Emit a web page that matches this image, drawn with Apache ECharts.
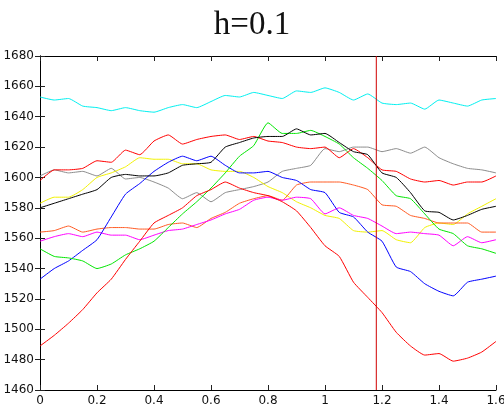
<!DOCTYPE html>
<html>
<head>
<meta charset="utf-8">
<script src="https://cdn.jsdelivr.net/npm/echarts@6/dist/echarts.min.js"></script>
<style>
  html, body { margin: 0; padding: 0; background: #fff; }
  #chart { width: 504px; height: 407px; }
</style>
</head>
<body>
<div id="chart"></div>
<script>
// Sample positions along h-axis
const xs = [0, 0.05, 0.1, 0.15, 0.2, 0.25, 0.3, 0.35, 0.4, 0.45, 0.5, 0.55, 0.6, 0.65, 0.7, 0.75,
            0.8, 0.85, 0.9, 0.95, 1.0, 1.05, 1.1, 1.15, 1.2, 1.25, 1.3, 1.35, 1.4, 1.45, 1.5, 1.55, 1.6];

const cyan     = [1653, 1651, 1652, 1647, 1646, 1644, 1646, 1644, 1643, 1646, 1648, 1646, 1650, 1654, 1653, 1656,
                  1654, 1652, 1657, 1656, 1659, 1656, 1651, 1655, 1649, 1648, 1649, 1645, 1651, 1649, 1647, 1651, 1652];
const redUpper = [1598, 1605, 1605, 1606, 1611, 1610, 1618, 1615, 1624, 1628, 1622, 1625, 1627, 1628, 1625, 1627,
                  1624, 1623, 1620, 1619, 1620, 1613, 1619, 1613, 1605, 1604, 1599, 1597, 1598, 1595, 1597, 1597, 1601];
const yellow   = [1583, 1587, 1587, 1592, 1600, 1603, 1607, 1613, 1612, 1612, 1609, 1609, 1605, 1604, 1604, 1600,
                  1594, 1590, 1584, 1580, 1575, 1573, 1565, 1564, 1565, 1559, 1557, 1567, 1570, 1569, 1576, 1581, 1586];
const gray     = [1601, 1605, 1603, 1604, 1601, 1606, 1599, 1600, 1597, 1593, 1586, 1590, 1584, 1590, 1592, 1594,
                  1597, 1604, 1606, 1608, 1619, 1617, 1620, 1620, 1617, 1619, 1616, 1620, 1613, 1609, 1606, 1605, 1603];
const black    = [1580, 1583, 1586, 1589, 1592, 1600, 1602, 1601, 1601, 1603, 1608, 1609, 1610, 1620, 1623, 1626,
                  1627, 1627, 1632, 1628, 1629, 1623, 1617, 1615, 1603, 1600, 1590, 1578, 1577, 1572, 1575, 1579, 1581];
const blue     = [1533, 1540, 1545, 1552, 1559, 1574, 1589, 1596, 1604, 1610, 1614, 1611, 1614, 1608, 1603, 1603,
                  1604, 1600, 1598, 1592, 1590, 1577, 1574, 1564, 1558, 1541, 1538, 1530, 1525, 1522, 1531, 1533, 1535];
const green    = [1553, 1548, 1547, 1545, 1540, 1543, 1549, 1553, 1558, 1567, 1576, 1584, 1593, 1603, 1614, 1621,
                  1636, 1629, 1629, 1631, 1627, 1622, 1613, 1606, 1598, 1588, 1586, 1576, 1566, 1563, 1555, 1553, 1550];
const orange   = [1564, 1565, 1568, 1564, 1566, 1567, 1567, 1566, 1566, 1569, 1570, 1567, 1573, 1577, 1583, 1586,
                  1588, 1585, 1595, 1597, 1597, 1597, 1595, 1592, 1582, 1581, 1575, 1573, 1570, 1570, 1570, 1564, 1564];
const magenta  = [1558, 1561, 1563, 1561, 1564, 1562, 1562, 1559, 1562, 1565, 1566, 1569, 1572, 1576, 1579, 1585,
                  1587, 1585, 1587, 1586, 1576, 1580, 1575, 1573, 1568, 1563, 1564, 1563, 1562, 1555, 1561, 1557, 1559];
const redLower = [1489, 1496, 1504, 1513, 1524, 1533, 1546, 1558, 1570, 1575, 1580, 1588, 1592, 1597, 1593, 1590,
                  1588, 1584, 1578, 1567, 1555, 1548, 1531, 1521, 1511, 1498, 1489, 1483, 1484, 1479, 1481, 1485, 1492];

// Position of the vertical marker
const markerH = 1.18;

const xTicks = { min: 0, max: 1.6, interval: 0.2 };
const yTicks = { min: 1460, max: 1680, interval: 20 };

const curves = [
  { name: 'cyan',     color: '#00f0f0', values: cyan },
  { name: 'gray',     color: '#8c8c8c', values: gray },
  { name: 'yellow',   color: '#f2f200', values: yellow },
  { name: 'orange',   color: '#ff5a22', values: orange },
  { name: 'magenta',  color: '#ff00ff', values: magenta },
  { name: 'blue',     color: '#0000ff', values: blue },
  { name: 'green',    color: '#00e600', values: green },
  { name: 'redUpper', color: '#ff0000', values: redUpper },
  { name: 'black',    color: '#000000', values: black },
  { name: 'redLower', color: '#ff0000', values: redLower }
];

const plainNumber = v => String(Math.round(v * 1000) / 1000);
const labelStyle = { color: '#111', fontSize: 12, fontFamily: 'DejaVu Sans', formatter: plainNumber };
const tickStyle = { inside: true, length: 5, lineStyle: { color: '#222', width: 1 } };
const lineStyle = { lineStyle: { color: '#000', width: 1 } };

const chart = echarts.init(document.getElementById('chart'), null, { renderer: 'canvas' });

const series = curves.map(c => ({
  name: c.name,
  type: 'line',
  data: xs.map((x, i) => [x, c.values[i]]),
  showSymbol: false,
  smooth: 0.15,
  lineStyle: { color: c.color, width: 1 },
  itemStyle: { color: c.color },
  silent: true
}));

series.push({
  name: 'marker',
  type: 'line',
  data: [[markerH, yTicks.min], [markerH, yTicks.max]],
  showSymbol: false,
  lineStyle: { color: '#d00000', width: 1 },
  silent: true
});

chart.setOption({
  animation: false,
  backgroundColor: '#fff',
  title: {
    text: 'h=0.1',
    left: 'center',
    top: 4,
    textStyle: { fontFamily: 'Liberation Serif', fontSize: 33, fontWeight: 'normal', color: '#111' }
  },
  grid: { left: 40, right: 8, top: 56, bottom: 17, containLabel: false, outerBoundsMode: 'none' },
  xAxis: [
    {
      type: 'value', ...xTicks, position: 'bottom',
      axisLine: lineStyle, axisTick: tickStyle,
      axisLabel: { ...labelStyle, margin: 5 },
      splitLine: { show: false }
    },
    {
      type: 'value', ...xTicks, position: 'top',
      axisLine: lineStyle, axisTick: tickStyle,
      axisLabel: { show: false }, splitLine: { show: false }
    }
  ],
  yAxis: [
    {
      type: 'value', ...yTicks, position: 'left',
      axisLine: { show: true, ...lineStyle }, axisTick: tickStyle,
      axisLabel: { ...labelStyle, margin: 6 },
      splitLine: { show: false }
    },
    {
      type: 'value', ...yTicks, position: 'right',
      axisLine: { show: true, ...lineStyle }, axisTick: tickStyle,
      axisLabel: { show: false }, splitLine: { show: false }
    }
  ],
  series: series
});
</script>
</body>
</html>
